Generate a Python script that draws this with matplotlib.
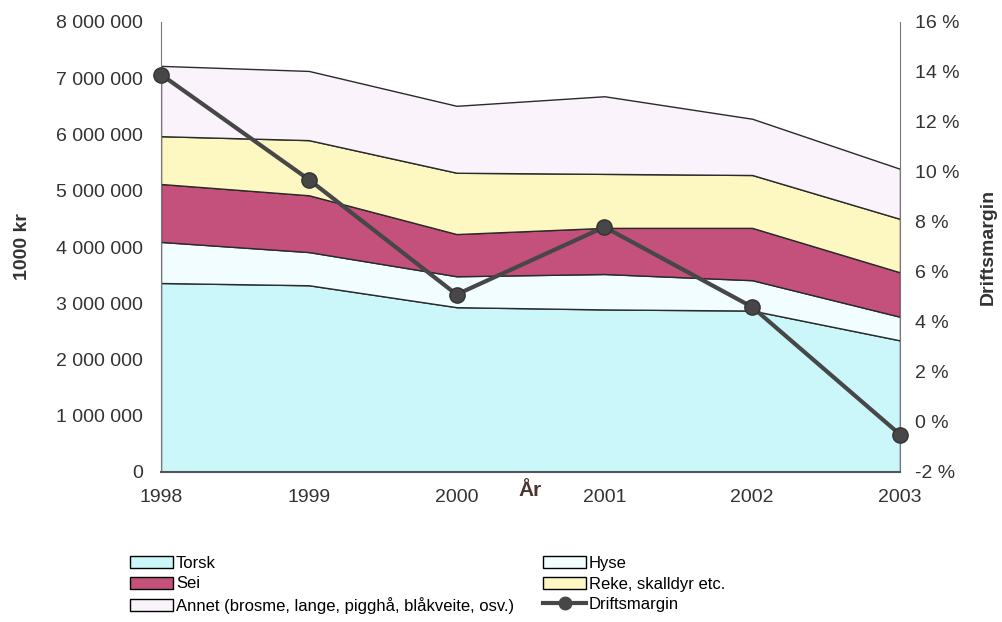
import matplotlib
matplotlib.use("Agg")
import matplotlib.pyplot as plt
from matplotlib.patches import Patch
from matplotlib.lines import Line2D
from matplotlib.ticker import FuncFormatter

plt.rcParams['font.family'] = ['Liberation Sans', 'DejaVu Sans']

years = [1998, 1999, 2000, 2001, 2002, 2003]
# values in 1000 kr (read from cumulative boundaries)
torsk = [3360000, 3320000, 2930000, 2890000, 2870000, 2340000]
hyse = [730000, 590000, 550000, 630000, 540000, 420000]
sei = [1030000, 1010000, 750000, 820000, 930000, 790000]
reke = [850000, 980000, 1090000, 960000, 940000, 950000]
annet = [1250000, 1230000, 1190000, 1380000, 1000000, 890000]
driftsmargin = [13.9, 9.7, 5.1, 7.8, 4.6, -0.5]

series_names = ["Torsk", "Hyse", "Sei", "Reke, skalldyr etc.",
                "Annet (brosme, lange, pigghå, blåkveite, osv.)"]
colors = ["#cbf7fb", "#f1fdff", "#c4507c", "#fdf8c2", "#fbf3fc"]

W, H = 1002, 622
L, R, T, B = 161, 900, 22, 472
fig = plt.figure(figsize=(W/100, H/100), dpi=100)
ax = fig.add_axes([L/W, 1-B/H, (R-L)/W, (B-T)/H])

ax.stackplot(years, torsk, hyse, sei, reke, annet, colors=colors,
             edgecolor="#2a2a2a", linewidth=1.0)
ax.set_xlim(1998, 2003)
ax.set_ylim(0, 8000000)
ax.set_yticks(range(0, 8000001, 1000000))
ax.yaxis.set_major_formatter(FuncFormatter(lambda v, p: f"{int(v):,}".replace(",", " ")))
ax.set_xticks(years)
ax.tick_params(axis='both', length=0, labelsize=14, colors="#333333", pad=13)
ax.tick_params(axis='x', pad=12)
ax.spines["top"].set_visible(False)
ax.spines["left"].set_color("#777777")
ax.spines["left"].set_linestyle((0, (3, 1)))
ax.spines["right"].set_color("#777777")
ax.spines["right"].set_linestyle((0, (3, 1)))
ax.spines["bottom"].set_color("#555555")
ax.spines["bottom"].set_linewidth(1.5)

ax.set_ylabel("1000 kr", fontsize=14, fontweight="bold", color="#333333")
ax.yaxis.set_label_coords(-(L-31)/(R-L), 0.5)
ax.set_xlabel("År", fontsize=15, fontweight="bold", color="#4a3430")
ax.xaxis.set_label_coords((530-L)/(R-L), -0.02)
ax.xaxis.label.set_verticalalignment("top")

ax2 = ax.twinx()
ax2.plot(years, driftsmargin, color="#474747", linewidth=3, marker="o",
         markersize=11, markerfacecolor="#474747", markeredgecolor="#333333",
         clip_on=False, zorder=5)
ax2.set_ylim(-2, 16)
ax2.set_yticks(range(-2, 17, 2))
ax2.yaxis.set_major_formatter(FuncFormatter(lambda v, p: f"{int(v)} %"))
ax2.tick_params(axis='y', length=0, labelsize=14, colors="#333333", pad=11)
for s in ax2.spines.values():
    s.set_visible(False)
ax2.set_ylabel("Driftsmargin", fontsize=14, fontweight="bold", color="#333333")
ax2.yaxis.set_label_coords(1 + (980-R)/(R-L), 0.5)

def patch(i):
    return Patch(facecolor=colors[i], edgecolor="black", label=series_names[i])

leg_kw = dict(loc="upper left", frameon=False, fontsize=12, handlelength=2.6,
              handleheight=0.75, handletextpad=0.15, labelspacing=0.33,
              borderpad=0, borderaxespad=0)
leg1 = fig.legend(handles=[patch(0), patch(2), patch(4)],
                  bbox_to_anchor=(130/W, 1-556/H), **leg_kw)
leg2 = fig.legend(handles=[patch(1), patch(3),
                           Line2D([0], [0], color="#474747", linewidth=3, marker="o",
                                  markersize=9, label="Driftsmargin")],
                  bbox_to_anchor=(543/W, 1-556/H), **leg_kw)

fig.savefig("out.png", dpi=100)
